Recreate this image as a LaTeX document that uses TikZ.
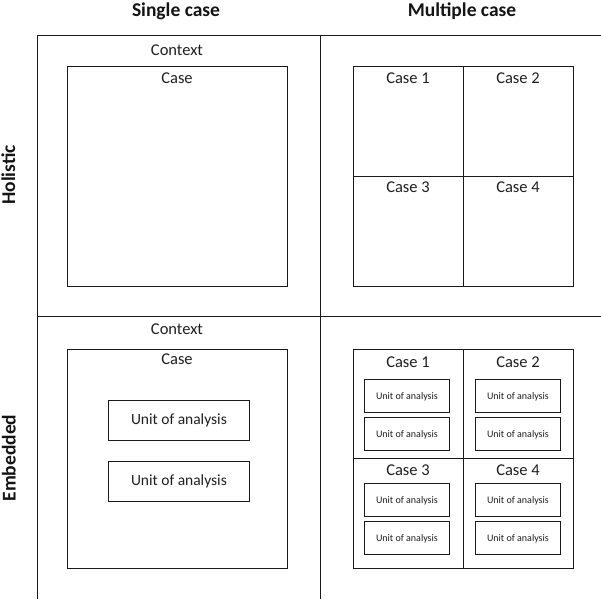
\documentclass[tikz,border=0pt]{standalone}
\usepackage{fontspec}
\setmainfont{Carlito}
\begin{document}
\begin{tikzpicture}[x=1pt,y=-1pt,
  line width=0.9pt,
  box/.style={draw=black!90, line width=0.9pt, inner sep=0pt, anchor=north west},
  lbl/.style={inner sep=0pt, text=black!88, yshift=-1.5pt, font=\fontsize{16.5}{18}\selectfont, text height=0.64em, text depth=0pt},
  small/.style={inner sep=0pt, text=black!88, yshift=-0.8pt, font=\fontsize{10}{12}\selectfont, text height=0.64em, text depth=0pt},
  head/.style={inner sep=0pt, text=black!92, font=\bfseries\fontsize{19.5}{21}\selectfont, text height=0.64em, text depth=0pt}]
\useasboundingbox (0,0) rectangle (601,599);
% grid
\coordinate (gTL) at (37,35);
\coordinate (gTR) at (601,35);
\coordinate (gML) at (37,316);
\coordinate (gMR) at (601,316);
\coordinate (gLB) at (37,599);
\coordinate (gMT) at (320,35);
\coordinate (gMB) at (320,599);
\draw[black!90] (gTL) -- (gTR);
\draw[black!90] (gML) -- (gMR);
\draw[black!90] (gTL) -- (gLB);
\draw[black!90] (gMT) -- (gMB);
% headings
\node[head] (hs) at (176,13) {Single case};
\node[head] (hm) at (462,13) {Multiple case};
\node[head, rotate=90] (hh) at (12,175) {Holistic};
\node[head, rotate=90] (he) at (12.5,458) {Embedded};
% holistic single
\node[lbl] (ctx1) at (177,50.5) {Context};
\node[box, minimum width=220pt, minimum height=220pt] (case1) at (67,66) {};
\node[lbl] (case1l) at (177,79) {Case};
% holistic multiple
\node[box, minimum width=110pt, minimum height=110pt] (hc1) at (353,66) {};
\node[box, minimum width=110pt, minimum height=110pt] (hc2) at (463,66) {};
\node[box, minimum width=110pt, minimum height=110pt] (hc3) at (353,176) {};
\node[box, minimum width=110pt, minimum height=110pt] (hc4) at (463,176) {};
\node[lbl] (hc1l) at (408,79) {Case 1};
\node[lbl] (hc2l) at (518,79) {Case 2};
\node[lbl] (hc3l) at (408,187.5) {Case 3};
\node[lbl] (hc4l) at (518,187.5) {Case 4};
% embedded single
\node[lbl] (ctx2) at (177,329.5) {Context};
\node[box, minimum width=220pt, minimum height=219pt] (case2) at (67,349) {};
\node[lbl] (case2l) at (177,360) {Case};
\node[box, minimum width=141pt, minimum height=40pt] (u1) at (108,399.5) {};
\node[box, minimum width=141pt, minimum height=40pt] (u2) at (108,460.5) {};
\node[lbl, font=\fontsize{15.5}{18}\selectfont] at (u1.center) {Unit of analysis};
\node[lbl, font=\fontsize{15.5}{18}\selectfont] at (u2.center) {Unit of analysis};
% embedded multiple
\node[box, minimum width=110pt, minimum height=109pt] (ec1) at (353,349) {};
\node[box, minimum width=110pt, minimum height=109pt] (ec2) at (463,349) {};
\node[box, minimum width=110pt, minimum height=110pt] (ec3) at (353,458) {};
\node[box, minimum width=110pt, minimum height=110pt] (ec4) at (463,458) {};
\node[lbl] (ec1l) at (408,362.5) {Case 1};
\node[lbl] (ec2l) at (518,362.5) {Case 2};
\node[lbl] (ec3l) at (408,471) {Case 3};
\node[lbl] (ec4l) at (518,471) {Case 4};
\foreach \cx/\cn in {364/a,475/b}{
  \foreach \ry/\rh/\rn in {378.5/33/1,416.5/33/2,483/32.5/3,520.5/33/4}{
    \node[box, minimum width=85pt, minimum height=\rh pt] (m\cn\rn) at (\cx,\ry) {};
    \node[small] at (m\cn\rn.center) {Unit of analysis};
  }
}
\end{tikzpicture}
\end{document}
